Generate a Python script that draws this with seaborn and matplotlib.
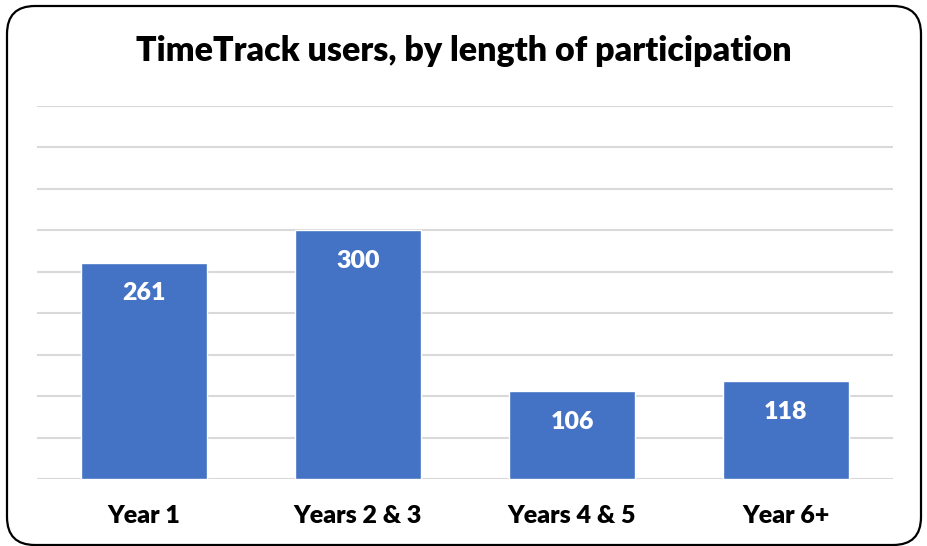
"""
TimeTrack users by length of participation - bar chart.
"""

import matplotlib
matplotlib.use("Agg")
import matplotlib.pyplot as plt
import matplotlib.patches as mpatches
from matplotlib.transforms import IdentityTransform
import seaborn as sns
import pandas as pd

# Data
categorias = ['Year 1', 'Years 2 & 3', 'Years 4 & 5', 'Year 6+']
usuarios = [261, 300, 106, 118]
titulo = 'TimeTrack users, by length of participation'

BAR_COLOR = '#4472C4'
GRID_COLOR = '#D9D9D9'

sns.set_theme(style='white')
plt.rcParams['font.family'] = ['Lato', 'DejaVu Sans']

df = pd.DataFrame({'categoria': categorias, 'usuarios': usuarios})

fig = plt.figure(figsize=(9.28, 5.46), dpi=100)
W, H = 928, 546
ax = fig.add_axes([37 / W, (H - 479) / H, (893 - 37) / W, (479 - 106) / H])

sns.barplot(data=df, x='categoria', y='usuarios', color=BAR_COLOR,
            width=0.589, saturation=1, ax=ax, zorder=3)

ax.set_ylim(0, 450)
ax.set_xlim(-0.5, len(categorias) - 0.5)
ax.set_yticks(range(0, 451, 50))
ax.set_yticklabels([])
ax.tick_params(axis='y', length=0)
ax.tick_params(axis='x', length=0, pad=19)
ax.grid(axis='y', color=GRID_COLOR, linewidth=1.5, zorder=0)
ax.set_axisbelow(True)
for s in ax.spines.values():
    s.set_visible(False)
ax.set_xlabel('')
ax.set_ylabel('')
for lbl in ax.get_xticklabels():
    lbl.set_fontsize(18)
    lbl.set_fontweight('heavy')
    lbl.set_color('black')

# Etiquetas de valor dentro de las barras
for i, v in enumerate(usuarios):
    ax.annotate(str(v), xy=(i, v), xytext=(0, -22), textcoords='offset points',
                ha='center', va='center', color='white', fontsize=18,
                fontweight='heavy', zorder=4)

fig.text(0.5, (H - 51) / H, titulo, ha='center', va='center',
         fontsize=24.5, fontweight='heavy', color='black')

# Marco redondeado
marco = mpatches.FancyBboxPatch((7, 1), 914, 539,
                                boxstyle='round,pad=0,rounding_size=28',
                                transform=IdentityTransform(), fill=False,
                                edgecolor='black', linewidth=1.6)
fig.add_artist(marco)

fig.savefig('out.png', dpi=100)
plt.close(fig)
